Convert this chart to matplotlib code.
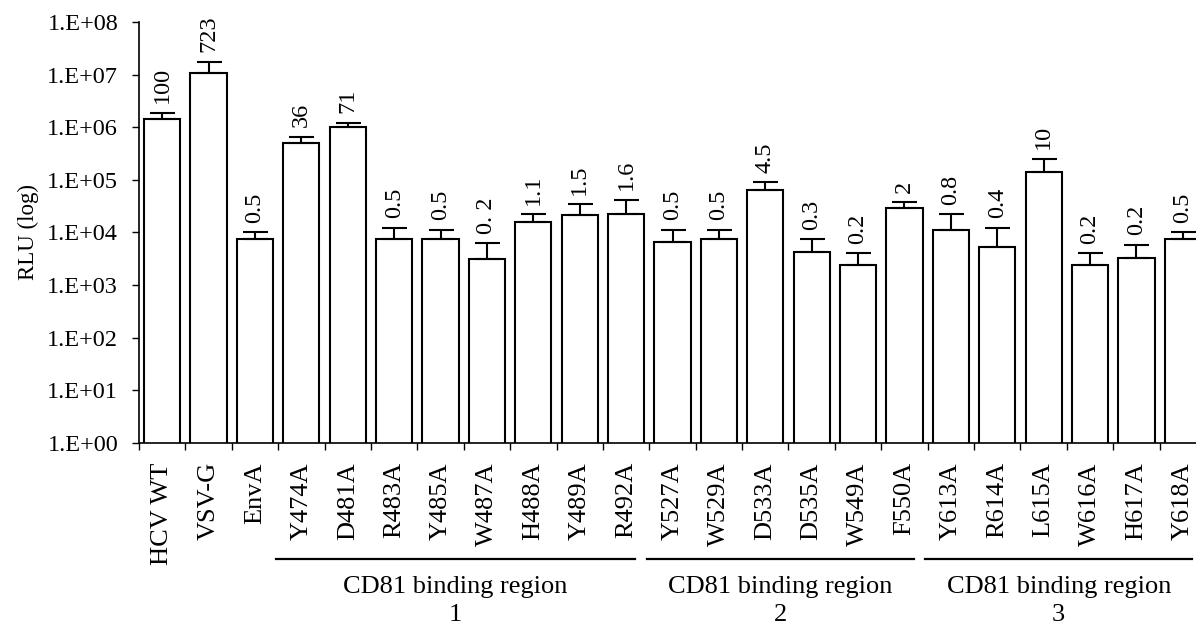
import matplotlib
matplotlib.use("Agg")
import matplotlib.pyplot as plt
import numpy as np

plt.rcParams['font.family'] = ['Liberation Serif', 'DejaVu Serif']

categories = ["HCV WT", "VSV-G", "EnvA", "Y474A", "D481A", "R483A", "Y485A",
              "W487A", "H488A", "Y489A", "R492A", "Y527A", "W529A", "D533A",
              "D535A", "W549A", "F550A", "Y613A", "R614A", "L615A", "W616A",
              "H617A", "Y618A"]
rlu_mean = [1.44e6, 1.05e7, 7.4e3, 5.0e5, 1.0e6, 7.4e3, 7.4e3,
            3.1e3, 1.58e4, 2.1e4, 2.2e4, 6.6e3, 7.4e3, 6.3e4,
            4.3e3, 2.35e3, 2.9e4, 1.1e4, 5.2e3, 1.38e5, 2.35e3,
            3.3e3, 7.4e3]
rlu_upper = [1.85e6, 1.75e7, 1.0e4, 6.6e5, 1.2e6, 1.2e4, 1.1e4,
             6.2e3, 2.2e4, 3.4e4, 4.1e4, 1.1e4, 1.1e4, 8.9e4,
             7.4e3, 4.0e3, 3.7e4, 2.2e4, 1.2e4, 2.5e5, 4.0e3,
             5.7e3, 1.0e4]
pct_labels = ["100", "723", "0.5", "36", "71", "0.5", "0.5", "0. 2", "1.1",
              "1.5", "1.6", "0.5", "0.5", "4.5", "0.3", "0.2", "2", "0.8",
              "0.4", "10", "0.2", "0.2", "0.5"]
ytick_values = [1e0, 1e1, 1e2, 1e3, 1e4, 1e5, 1e6, 1e7, 1e8]
ytick_labels = ["1.E+00", "1.E+01", "1.E+02", "1.E+03", "1.E+04",
                "1.E+05", "1.E+06", "1.E+07", "1.E+08"]
group_names = ["CD81 binding region\n1", "CD81 binding region\n2",
               "CD81 binding region\n3"]
group_first = [3, 11, 17]
group_last = [10, 16, 22]

fig = plt.figure(figsize=(11.96, 6.26), dpi=100)
ax = fig.add_axes([139/1196, 183.3/626, 1067/1196, 420.7/626])

x = np.arange(len(categories))
mean = np.array(rlu_mean)
err_up = np.array(rlu_upper) - mean
err = [np.zeros_like(mean), err_up]

ax.bar(x, mean, width=0.78, color='white', edgecolor='black', linewidth=1.5,
       zorder=2)
ax.errorbar(x, mean, yerr=err, fmt='none', ecolor='black', elinewidth=1.5,
            capsize=9, capthick=1.5, zorder=3)

for xi, top, lab in zip(x, rlu_upper, pct_labels):
    ax.annotate(lab, (xi, top), xytext=(0, 7), textcoords='offset points',
                rotation=90, ha='center', va='bottom', fontsize=17.5)

ax.set_yscale('log')
ax.set_ylim(1, 1e8)
ax.set_xlim(-0.5, len(categories) - 0.5)
ax.set_yticks(ytick_values)
ax.set_yticklabels(ytick_labels, fontsize=17.5)
ax.yaxis.set_minor_locator(matplotlib.ticker.NullLocator())
ax.tick_params(axis='y', direction='out', length=5, width=1, pad=10)

ax.set_xticks(np.arange(len(categories) + 1) - 0.5)
ax.set_xticklabels([])
ax.set_xticks(x, categories, minor=True, rotation=90, fontsize=19)
ax.tick_params(axis='x', which='major', direction='out', length=5, width=1)
ax.tick_params(axis='x', which='minor', length=0, pad=14)

ax.set_ylabel("RLU (log)", fontsize=16.5, labelpad=6)

for s in ['top', 'right']:
    ax.spines[s].set_visible(False)
for s in ['left', 'bottom']:
    ax.spines[s].set_linewidth(1.2)

trans = ax.get_xaxis_transform()
for name, a, b in zip(group_names, group_first, group_last):
    x0 = a - 0.55
    x1 = b + 0.2
    ax.plot([x0, x1], [-0.277, -0.277], color='black', lw=1.6,
            transform=trans, clip_on=False)
    ax.text((x0 + x1) / 2, -0.318, name, transform=trans, ha='center',
            va='top', fontsize=19, linespacing=1.3)

fig.savefig("out.png", dpi=100)
